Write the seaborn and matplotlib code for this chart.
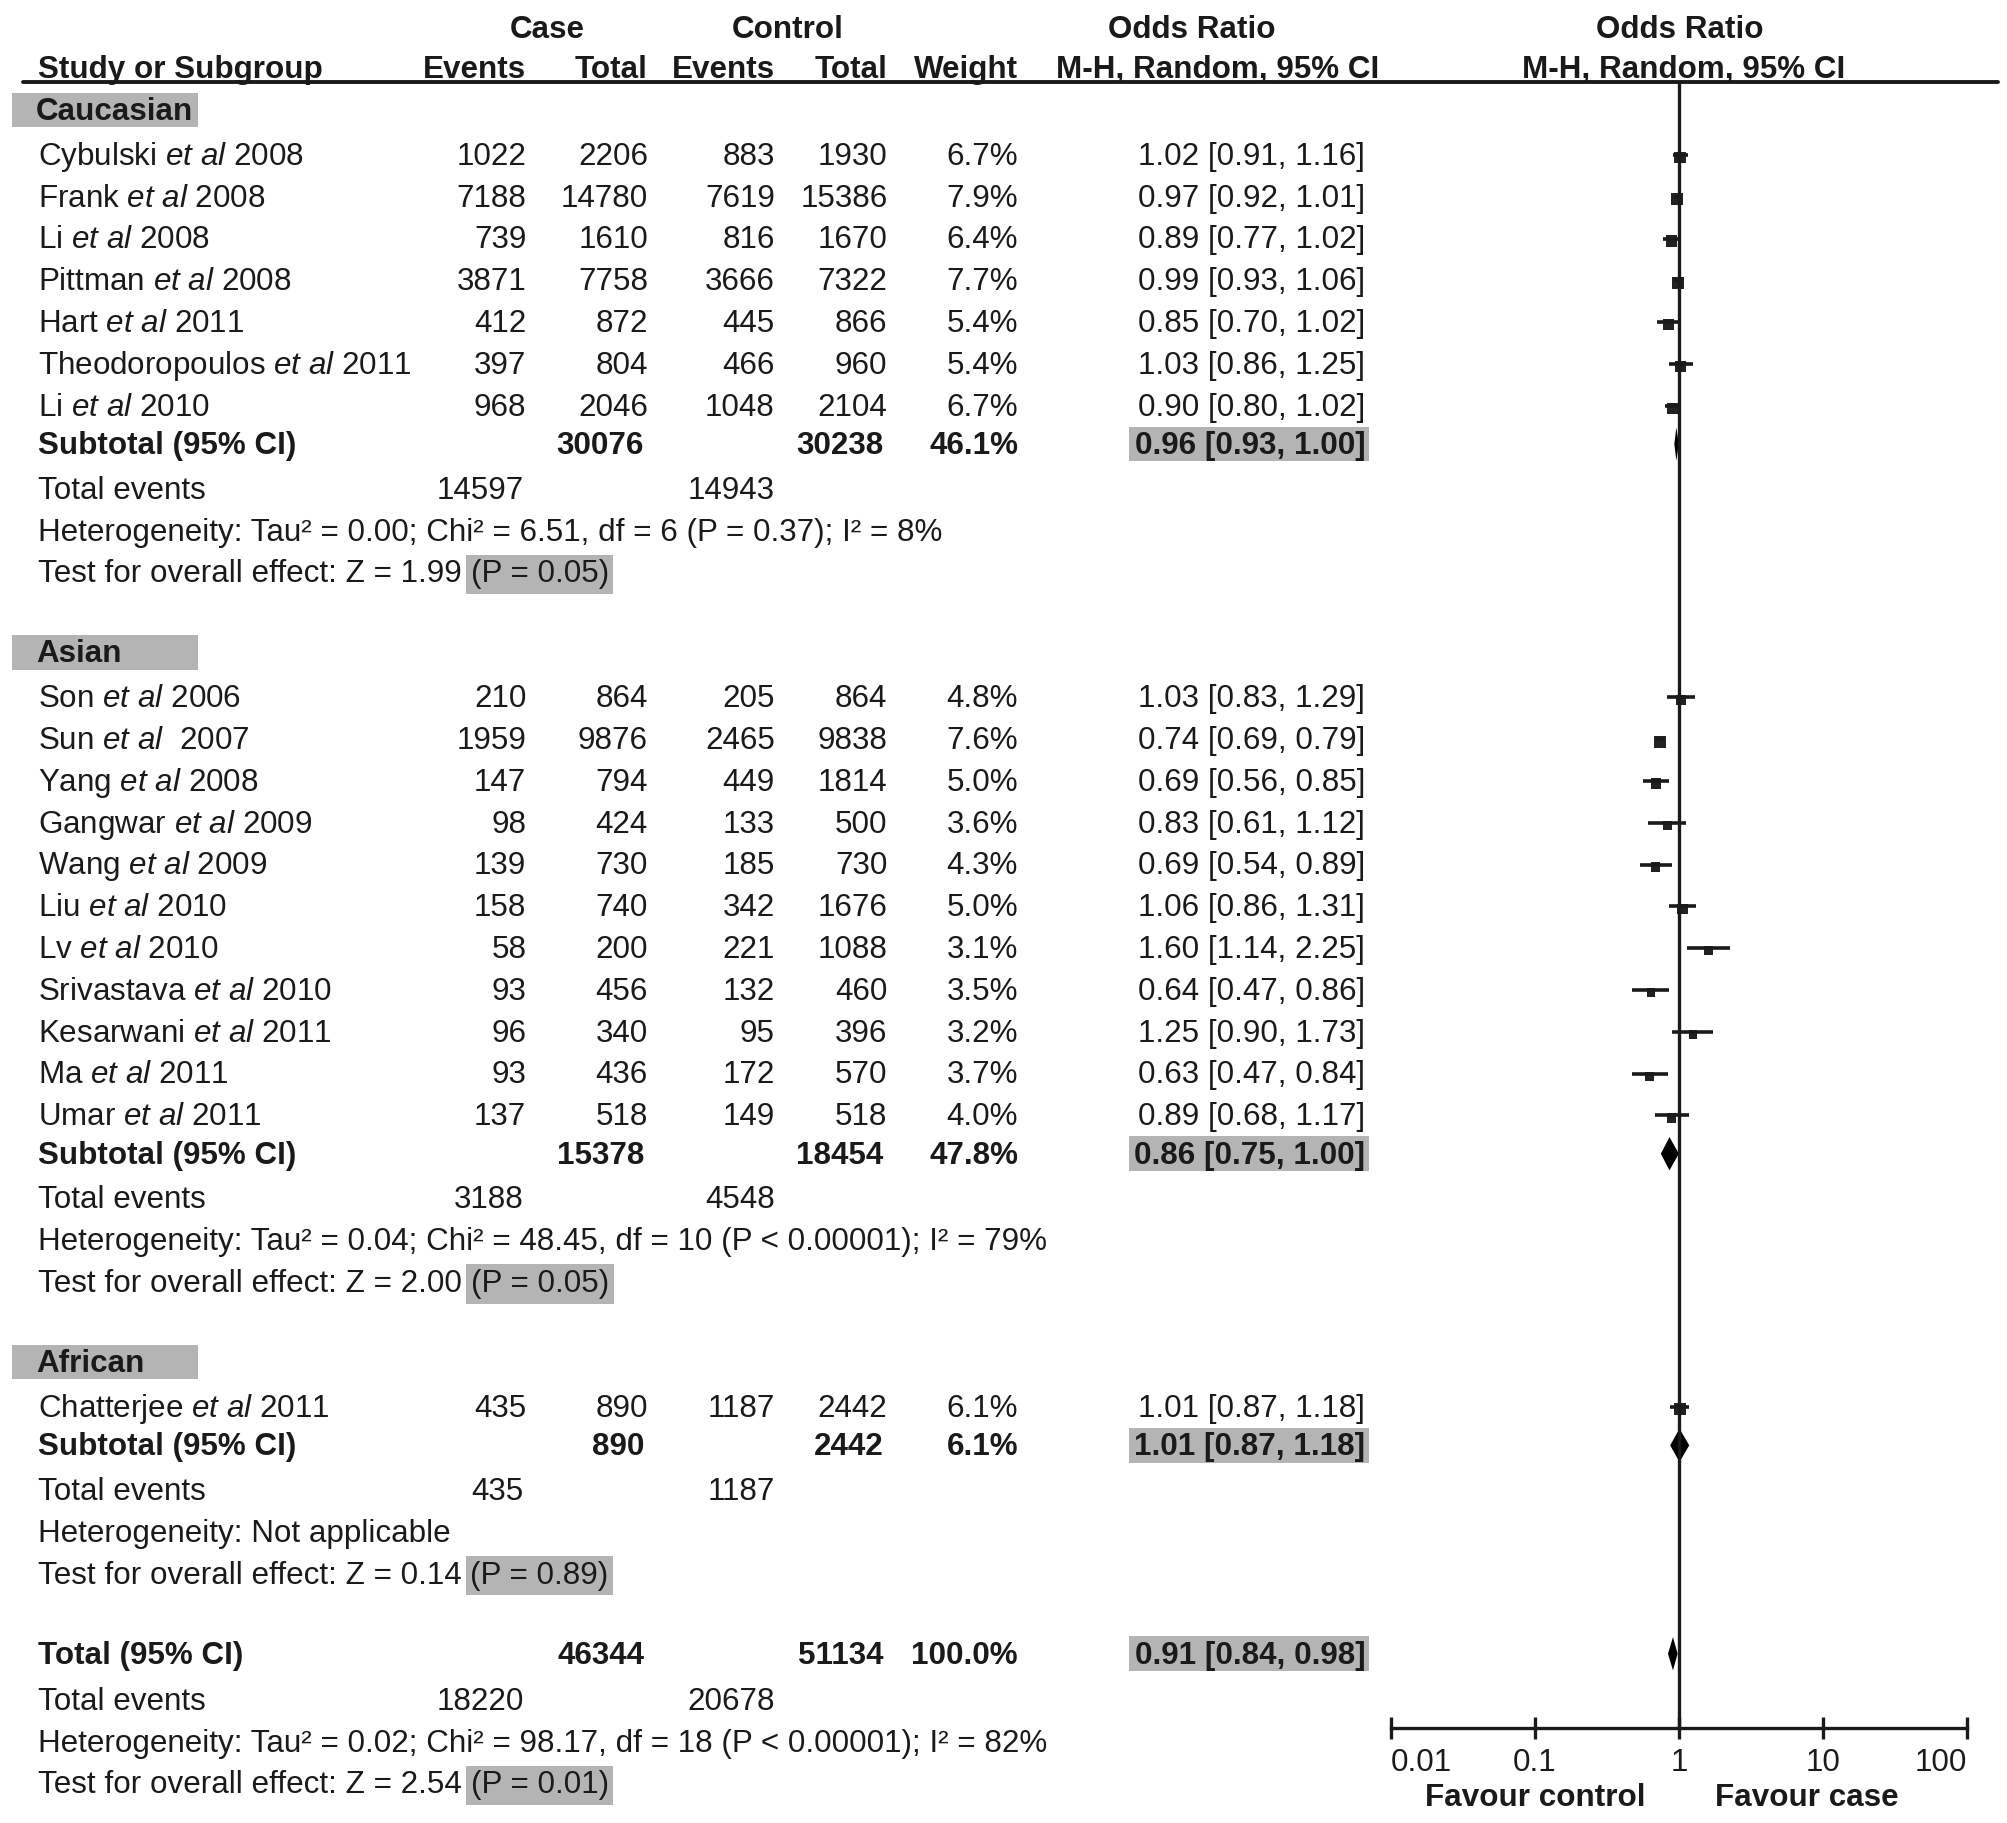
import matplotlib
matplotlib.use("Agg")
import matplotlib.pyplot as plt
import seaborn as sns
import pandas as pd
from matplotlib.patches import Rectangle

sns.set_theme(style="white")
plt.rcParams['font.family'] = ['Liberation Sans', 'DejaVu Sans']
plt.rcParams['mathtext.fontset'] = 'custom'
plt.rcParams['mathtext.rm'] = 'Liberation Sans'
plt.rcParams['mathtext.it'] = 'Liberation Sans:italic'
plt.rcParams['mathtext.bf'] = 'Liberation Sans:bold'

# ---- data ----
groups = ["Caucasian", "Asian", "African"]

cau_authors = ["Cybulski", "Frank", "Li", "Pittman", "Hart", "Theodoropoulos", "Li"]
cau_years = ["2008", "2008", "2008", "2008", "2011", "2011", "2010"]
cau_case_events = [1022, 7188, 739, 3871, 412, 397, 968]
cau_case_total = [2206, 14780, 1610, 7758, 872, 804, 2046]
cau_ctrl_events = [883, 7619, 816, 3666, 445, 466, 1048]
cau_ctrl_total = [1930, 15386, 1670, 7322, 866, 960, 2104]
cau_weight = [6.7, 7.9, 6.4, 7.7, 5.4, 5.4, 6.7]
cau_or = [1.02, 0.97, 0.89, 0.99, 0.85, 1.03, 0.90]
cau_lo = [0.91, 0.92, 0.77, 0.93, 0.70, 0.86, 0.80]
cau_hi = [1.16, 1.01, 1.02, 1.06, 1.02, 1.25, 1.02]

asi_authors = ["Son", "Sun", "Yang", "Gangwar", "Wang", "Liu", "Lv", "Srivastava", "Kesarwani", "Ma", "Umar"]
asi_years = ["2006", " 2007", "2008", "2009", "2009", "2010", "2010", "2010", "2011", "2011", "2011"]
asi_case_events = [210, 1959, 147, 98, 139, 158, 58, 93, 96, 93, 137]
asi_case_total = [864, 9876, 794, 424, 730, 740, 200, 456, 340, 436, 518]
asi_ctrl_events = [205, 2465, 449, 133, 185, 342, 221, 132, 95, 172, 149]
asi_ctrl_total = [864, 9838, 1814, 500, 730, 1676, 1088, 460, 396, 570, 518]
asi_weight = [4.8, 7.6, 5.0, 3.6, 4.3, 5.0, 3.1, 3.5, 3.2, 3.7, 4.0]
asi_or = [1.03, 0.74, 0.69, 0.83, 0.69, 1.06, 1.60, 0.64, 1.25, 0.63, 0.89]
asi_lo = [0.83, 0.69, 0.56, 0.61, 0.54, 0.86, 1.14, 0.47, 0.90, 0.47, 0.68]
asi_hi = [1.29, 0.79, 0.85, 1.12, 0.89, 1.31, 2.25, 0.86, 1.73, 0.84, 1.17]

afr_authors = ["Chatterjee"]
afr_years = ["2011"]
afr_case_events = [435]
afr_case_total = [890]
afr_ctrl_events = [1187]
afr_ctrl_total = [2442]
afr_weight = [6.1]
afr_or = [1.01]
afr_lo = [0.87]
afr_hi = [1.18]

sub_case_total = [30076, 15378, 890]
sub_ctrl_total = [30238, 18454, 2442]
sub_weight = [46.1, 47.8, 6.1]
sub_or = [0.96, 0.86, 1.01]
sub_lo = [0.93, 0.75, 0.87]
sub_hi = [1.00, 1.00, 1.18]
sub_case_events = [14597, 3188, 435]
sub_ctrl_events = [14943, 4548, 1187]
sub_het = ["Heterogeneity: Tau² = 0.00; Chi² = 6.51, df = 6 (P = 0.37); I² = 8%",
           "Heterogeneity: Tau² = 0.04; Chi² = 48.45, df = 10 (P < 0.00001); I² = 79%",
           "Heterogeneity: Not applicable"]
sub_z = ["1.99", "2.00", "0.14"]
sub_p = ["0.05", "0.05", "0.89"]

tot_case_total = 46344
tot_ctrl_total = 51134
tot_weight = 100.0
tot_or, tot_lo, tot_hi = 0.91, 0.84, 0.98
tot_case_events = 18220
tot_ctrl_events = 20678
tot_het = "Heterogeneity: Tau² = 0.02; Chi² = 98.17, df = 18 (P < 0.00001); I² = 82%"
tot_z = "2.54"
tot_p = "0.01"

axis_ticks = [0.01, 0.1, 1, 10, 100]
axis_labels = ["0.01", "0.1", "1", "10", "100"]

study_tables = [
    pd.DataFrame(dict(author=cau_authors, year=cau_years, ce=cau_case_events, ct=cau_case_total,
                      ke=cau_ctrl_events, kt=cau_ctrl_total, w=cau_weight, orr=cau_or, lo=cau_lo, hi=cau_hi)),
    pd.DataFrame(dict(author=asi_authors, year=asi_years, ce=asi_case_events, ct=asi_case_total,
                      ke=asi_ctrl_events, kt=asi_ctrl_total, w=asi_weight, orr=asi_or, lo=asi_lo, hi=asi_hi)),
    pd.DataFrame(dict(author=afr_authors, year=afr_years, ce=afr_case_events, ct=afr_case_total,
                      ke=afr_ctrl_events, kt=afr_ctrl_total, w=afr_weight, orr=afr_or, lo=afr_lo, hi=afr_hi)),
]

# ---- layout (units = pixels of a 1568 x 1424 canvas) ----
W, H = 1568, 1424
FS = 11.3
INK = "#1a1a1a"
GREY = "#b4b4b4"
X_NAME, X_CE, X_CT, X_KE, X_KT, X_W, X_OR = 30, 411, 506, 605, 693, 795, 1066
STEP = 32.65
GAP = 62.5
DY = 1.5  # visual centring of text

fig = plt.figure(figsize=(10.04, 9.115), dpi=200)
ax = fig.add_axes([0, 0, 1, 1])
ax.set_xlim(0, W)
ax.set_ylim(H, 0)
ax.axis("off")

axf = fig.add_axes([1086 / W, 0, 450 / W, 1])
axf.patch.set_alpha(0)
axf.set_xscale("log")
axf.set_xlim(0.01, 100)
axf.set_ylim(H, 0)


def txt(x, y, s, ha="right", bold=False, **kw):
    return ax.text(x, y + DY, s, ha=ha, va="center", fontsize=FS, color=INK,
                   fontweight="bold" if bold else "normal", **kw)


def test_line(y, z, p):
    t = txt(X_NAME, y, f"Test for overall effect: Z = {z}", ha="left")
    ax.annotate(f"(P = {p})", xy=(1, 0.5), xycoords=t, xytext=(3, 0), textcoords="offset points",
                ha="left", va="center", fontsize=FS, color=INK,
                bbox=dict(boxstyle="square,pad=0.15", fc=GREY, ec="none"))


def grey_or(y, o, lo, hi):
    ax.add_patch(Rectangle((882, y - 13.5), 187, 27, fc=GREY, ec="none"))
    txt(X_OR, y, f"{o:.2f} [{lo:.2f}, {hi:.2f}]", bold=True)


def diamond(y, o, lo, hi, h=13):
    axf.fill([lo, o, hi, o], [y, y - h, y, y + h], color="black", lw=0)


# header
txt(427, 22, "Case", ha="center", bold=True)
txt(615, 22, "Control", ha="center", bold=True)
txt(931, 22, "Odds Ratio", ha="center", bold=True)
txt(1312, 22, "Odds Ratio", ha="center", bold=True)
txt(X_NAME, 53, "Study or Subgroup", ha="left", bold=True)
txt(X_CE, 53, "Events", bold=True)
txt(X_CT, 53, "Total", bold=True)
txt(X_KE, 53, "Events", bold=True)
txt(X_KT, 53, "Total", bold=True)
txt(X_W, 53, "Weight", bold=True)
txt(951, 53, "M-H, Random, 95% CI", ha="center", bold=True)
txt(1315, 53, "M-H, Random, 95% CI", ha="center", bold=True)
ax.plot([18, 1560], [64, 64], color=INK, lw=1.4)

y = 86
for gi, (g, df) in enumerate(zip(groups, study_tables)):
    ax.add_patch(Rectangle((9, y - 13.5), 146, 27, fc=GREY, ec="none"))
    txt(28, y, g, ha="left", bold=True)
    y += 35
    ys = []
    for _, r in df.iterrows():
        txt(X_NAME, y, f"{r.author} $\\it{{et\\ al}}$ {r.year}", ha="left")
        txt(X_CE, y, f"{r.ce}")
        txt(X_CT, y, f"{r.ct}")
        txt(X_KE, y, f"{r.ke}")
        txt(X_KT, y, f"{r.kt}")
        txt(X_W, y, f"{r.w:.1f}%")
        txt(X_OR, y, f"{r.orr:.2f} [{r.lo:.2f}, {r.hi:.2f}]")
        ys.append(y)
        y += STEP
    df["row"] = ys
    df["mark"] = df["row"] + 2
    axf.hlines(df["row"], df["lo"], df["hi"], color=INK, lw=1.3)
    sns.scatterplot(data=df, x="orr", y="mark", size="w", sizes=(9, 20), size_norm=(3, 8),
                    marker="s", color="#222222", linewidth=0, legend=False, ax=axf)
    y += 30 - STEP
    txt(X_NAME, y, "Subtotal (95% CI)", ha="left", bold=True)
    txt(X_CT - 3, y, f"{sub_case_total[gi]}", bold=True)
    txt(X_KT - 3, y, f"{sub_ctrl_total[gi]}", bold=True)
    txt(X_W, y, f"{sub_weight[gi]:.1f}%", bold=True)
    grey_or(y, sub_or[gi], sub_lo[gi], sub_hi[gi])
    diamond(y, sub_or[gi], sub_lo[gi], sub_hi[gi])
    y += 35
    txt(X_NAME, y, "Total events", ha="left")
    txt(X_CE - 2, y, f"{sub_case_events[gi]}")
    txt(X_KE, y, f"{sub_ctrl_events[gi]}")
    y += STEP
    txt(X_NAME, y, sub_het[gi], ha="left")
    y += STEP
    test_line(y, sub_z[gi], sub_p[gi])
    y += GAP

# overall
txt(X_NAME, y, "Total (95% CI)", ha="left", bold=True)
txt(X_CT - 3, y, f"{tot_case_total}", bold=True)
txt(X_KT - 3, y, f"{tot_ctrl_total}", bold=True)
txt(X_W, y, f"{tot_weight:.1f}%", bold=True)
grey_or(y, tot_or, tot_lo, tot_hi)
diamond(y, tot_or, tot_lo, tot_hi)
y += 36
txt(X_NAME, y, "Total events", ha="left")
txt(X_CE - 2, y, f"{tot_case_events}")
txt(X_KE, y, f"{tot_ctrl_events}")
y += STEP
txt(X_NAME, y, tot_het, ha="left")
y += STEP
test_line(y, tot_z, tot_p)

# forest axis
AXIS_Y = 1350
axf.vlines(1, 64, AXIS_Y, color=INK, lw=1.2)
for side in ["left", "right", "top"]:
    axf.spines[side].set_visible(False)
axf.spines["bottom"].set_position(("data", AXIS_Y))
axf.spines["bottom"].set_color(INK)
axf.spines["bottom"].set_linewidth(1.2)
axf.set_xlabel("")
axf.set_ylabel("")
axf.set_yticks([])
axf.set_xticks(axis_ticks)
axf.set_xticklabels(axis_labels)
axf.minorticks_off()
axf.tick_params(axis="x", direction="inout", length=8, width=1.2, color=INK,
                labelsize=FS, labelcolor=INK, pad=3, bottom=True)
ticklabels = axf.get_xticklabels()
ticklabels[0].set_horizontalalignment("left")
ticklabels[-1].set_horizontalalignment("right")
txt(1199, 1403, "Favour control", ha="center", bold=True)
txt(1411, 1403, "Favour case", ha="center", bold=True)

fig.savefig("out.png", dpi=200)
